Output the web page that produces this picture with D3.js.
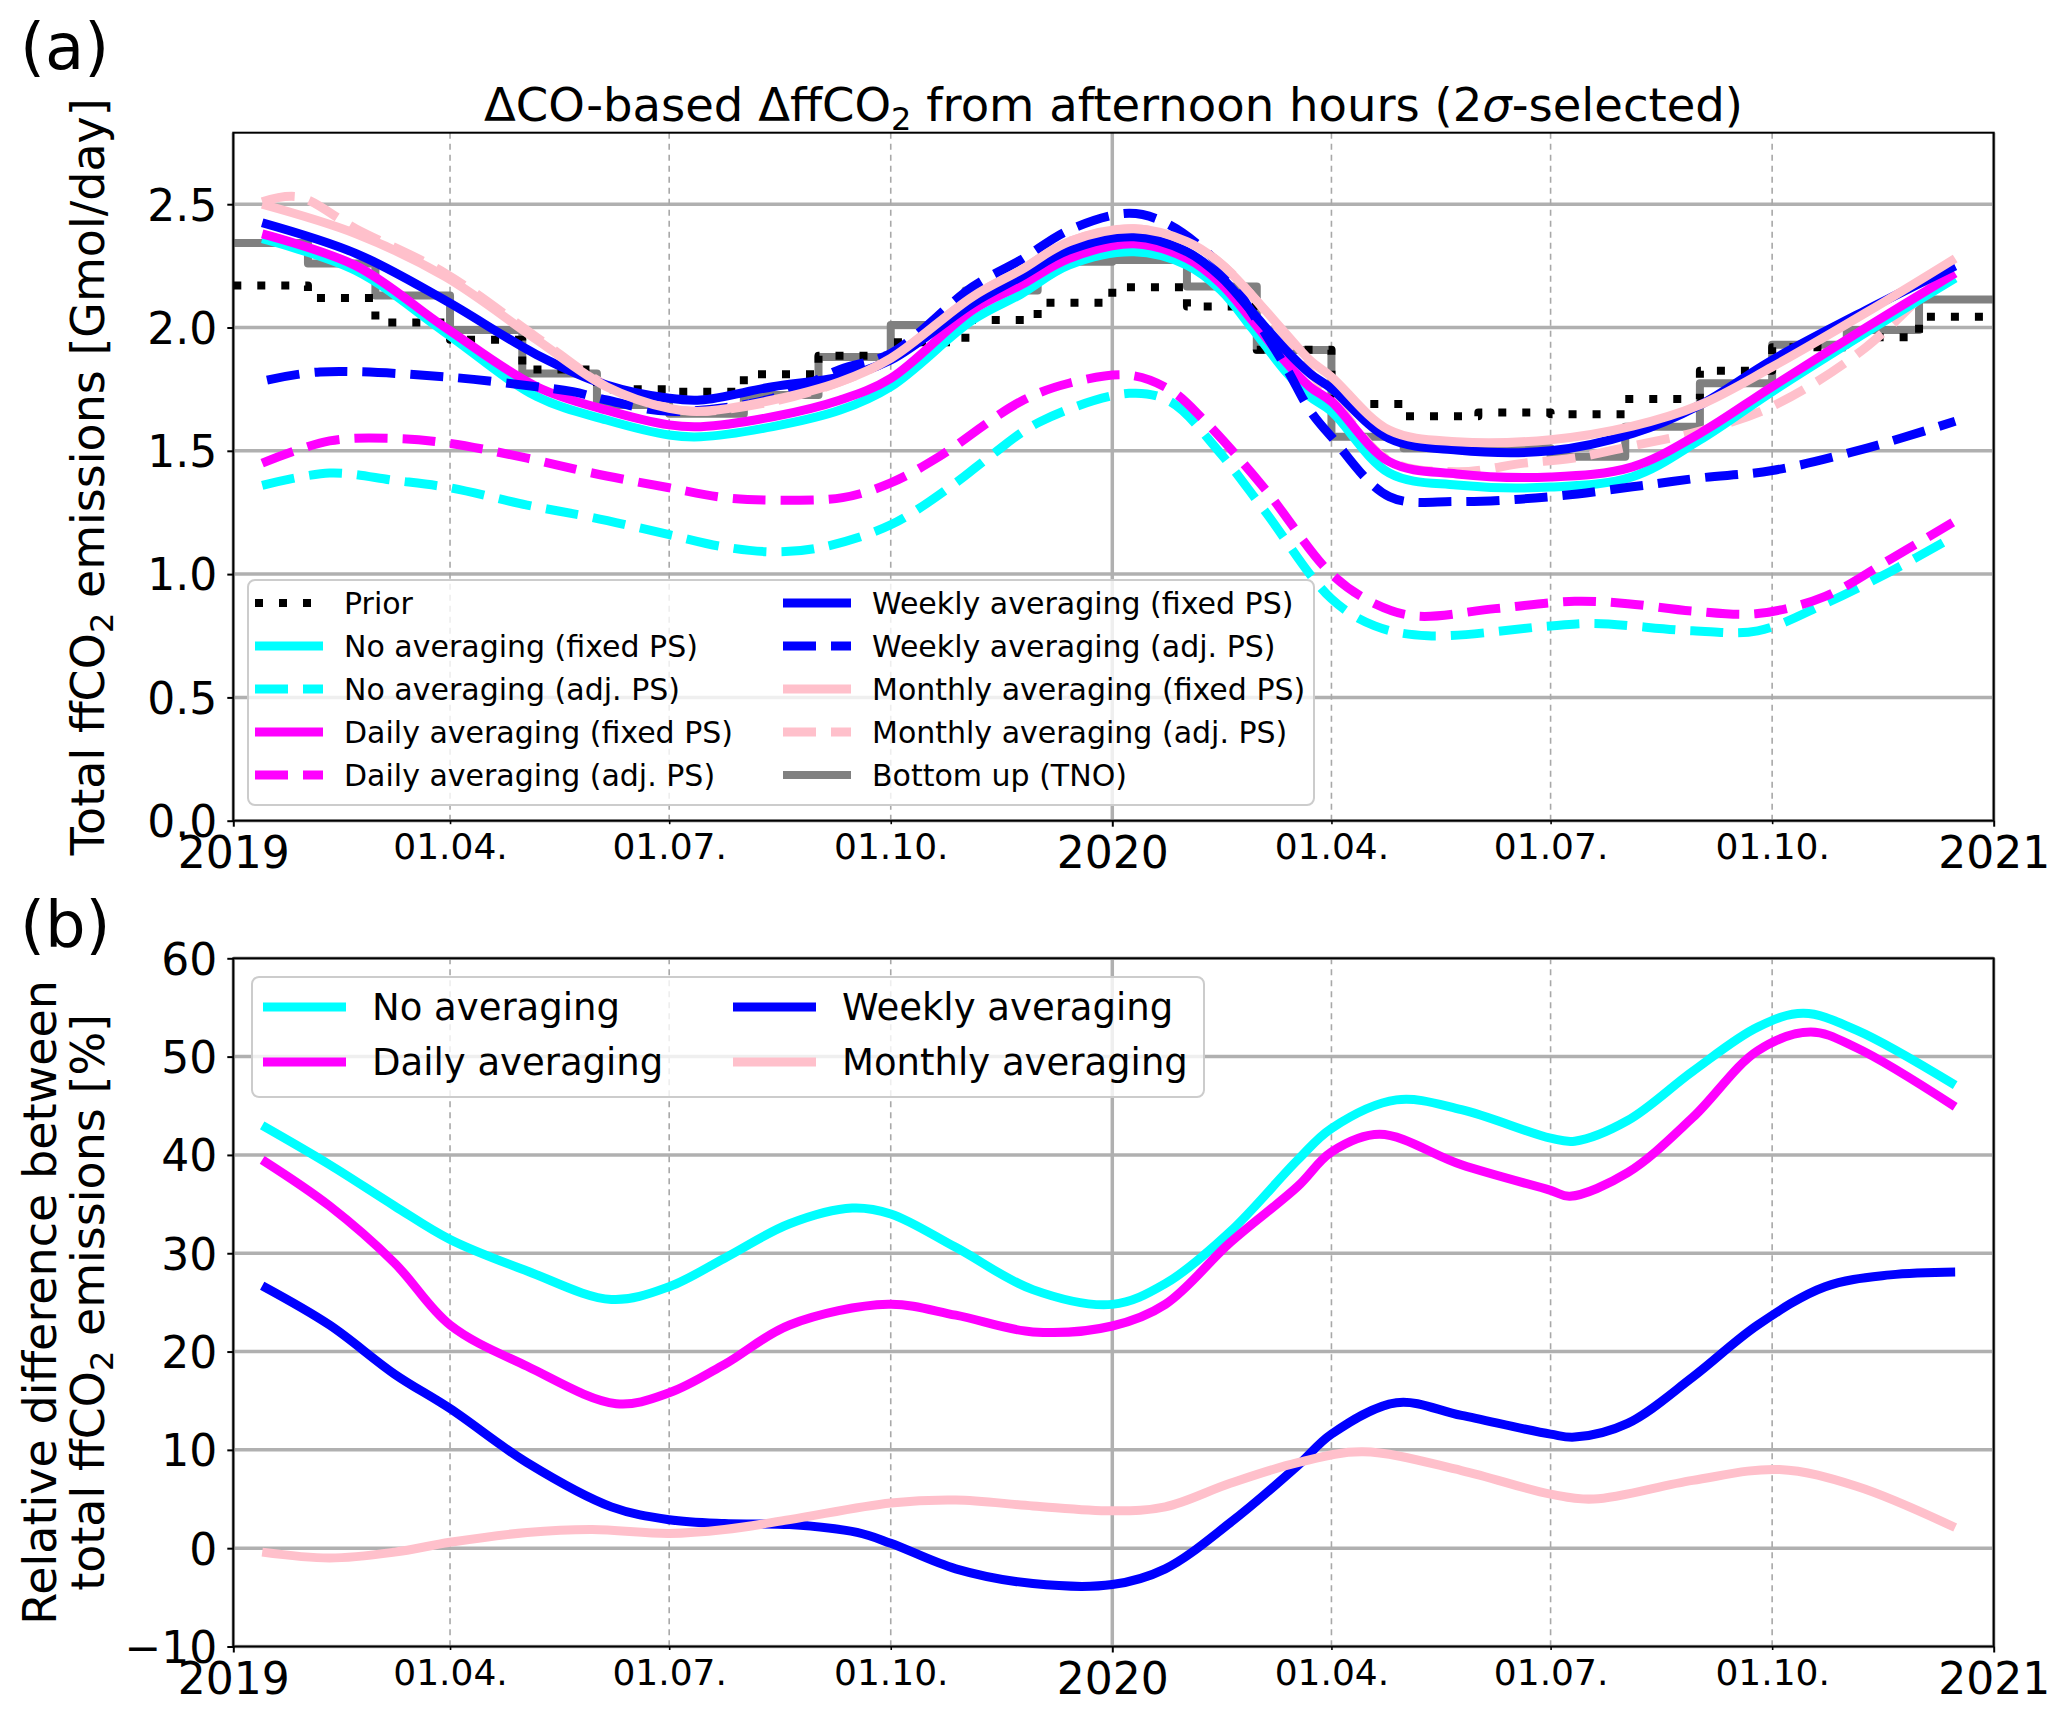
<!DOCTYPE html>
<html><head><meta charset="utf-8">
<script src="https://cdn.jsdelivr.net/npm/d3@7"></script>
<style>
body{margin:0;background:#fff}
text{font-family:"DejaVu Sans",sans-serif;fill:#000}
</style>
</head><body>
<svg id="c" width="2067" height="1713" xmlns="http://www.w3.org/2000/svg"></svg>
<script>
// ---------------- DATA ----------------
const yearTicks = ["2019-01-01","2020-01-01","2021-01-01"];
const monthTicks = ["2019-04-01","2019-07-01","2019-10-01","2020-04-01","2020-07-01","2020-10-01"];
const yTicksA = [0,0.5,1.0,1.5,2.0,2.5];
const yTicksB = [-10,0,10,20,30,40,50,60];

// monthly step series (value for each month starting 2019-01)
const priorValues = [2.17,2.12,2.02,1.95,1.83,1.75,1.74,1.81,1.885,1.94,2.03,2.10,
                     2.163,2.085,1.91,1.69,1.64,1.655,1.648,1.71,1.825,1.92,1.96,2.044];
const tnoValues   = [2.343,2.26,2.13,1.99,1.814,1.686,1.65,1.726,1.88,2.01,2.15,2.267,
                     2.274,2.166,1.909,1.557,1.51,1.51,1.476,1.598,1.774,1.93,1.99,2.114];

// panel (a) smooth series
const noFixed = [["2019-01-13",2.36],["2019-02-21",2.23],["2019-03-30",1.98],["2019-05-07",1.72],["2019-06-05",1.625],["2019-07-01",1.564],["2019-07-14",1.557],["2019-08-13",1.598],["2019-09-10",1.665],["2019-10-01",1.76],["2019-11-04",2.03],["2019-11-24",2.135],["2019-12-14",2.253],["2020-01-10",2.307],["2020-02-01",2.253],["2020-02-15",2.152],["2020-02-28",1.997],["2020-03-13",1.821],["2020-03-23",1.72],["2020-04-01",1.66],["2020-04-25",1.41],["2020-05-23",1.361],["2020-07-01",1.353],["2020-08-04",1.395],["2020-09-01",1.544],["2020-10-01",1.74],["2020-11-09",1.98],["2020-12-16",2.20]];
const noAdj = [["2019-01-13",1.36],["2019-02-10",1.41],["2019-03-09",1.38],["2019-04-01",1.35],["2019-05-03",1.28],["2019-05-30",1.23],["2019-07-01",1.16],["2019-07-24",1.11],["2019-08-15",1.09],["2019-09-03",1.11],["2019-10-01",1.20],["2019-10-28",1.37],["2019-11-11",1.476],["2019-12-02",1.618],["2020-01-08",1.733],["2020-01-25",1.70],["2020-02-14",1.50],["2020-03-04",1.26],["2020-04-01",0.90],["2020-04-19",0.79],["2020-05-11",0.75],["2020-07-01",0.79],["2020-07-19",0.80],["2020-08-29",0.77],["2020-09-25",0.77],["2020-10-23",0.88],["2020-11-19",1.01],["2020-12-15",1.15]];
const dailyFixed = [["2019-01-13",2.38],["2019-02-21",2.25],["2019-03-30",2.00],["2019-05-07",1.76],["2019-06-05",1.665],["2019-07-01",1.605],["2019-07-14",1.598],["2019-08-13",1.638],["2019-09-10",1.706],["2019-10-01",1.794],["2019-11-04",2.071],["2019-11-24",2.172],["2019-12-14",2.28],["2020-01-10",2.34],["2020-02-01",2.28],["2020-02-15",2.179],["2020-02-28",2.03],["2020-03-13",1.861],["2020-03-23",1.76],["2020-04-01",1.70],["2020-04-25",1.456],["2020-05-23",1.406],["2020-07-01",1.394],["2020-08-04",1.435],["2020-09-01",1.571],["2020-10-01",1.76],["2020-11-09",2.00],["2020-12-16",2.22]];
const dailyAdj = [["2019-01-13",1.45],["2019-02-10",1.54],["2019-03-09",1.55],["2019-04-01",1.53],["2019-05-03",1.47],["2019-05-30",1.41],["2019-07-01",1.35],["2019-07-24",1.31],["2019-08-15",1.30],["2019-09-11",1.31],["2019-10-01",1.37],["2019-10-21",1.476],["2019-11-24",1.70],["2019-12-14",1.774],["2020-01-08",1.807],["2020-01-25",1.747],["2020-02-08",1.625],["2020-03-04",1.35],["2020-04-01",1.00],["2020-04-19",0.88],["2020-05-06",0.83],["2020-06-08",0.86],["2020-07-11",0.89],["2020-08-02",0.88],["2020-08-29",0.85],["2020-09-25",0.84],["2020-10-23",0.91],["2020-11-19",1.06],["2020-12-15",1.21]];
const weeklyFixed = [["2019-01-13",2.425],["2019-02-21",2.30],["2019-03-30",2.11],["2019-05-07",1.89],["2019-06-05",1.767],["2019-07-01",1.713],["2019-07-14",1.706],["2019-08-13",1.76],["2019-09-10",1.80],["2019-10-01",1.868],["2019-11-04",2.098],["2019-11-24",2.206],["2019-12-14",2.314],["2020-01-10",2.368],["2020-02-01",2.307],["2020-02-15",2.206],["2020-02-28",2.064],["2020-03-13",1.909],["2020-03-23",1.814],["2020-04-01",1.753],["2020-04-25",1.55],["2020-05-23",1.503],["2020-07-01",1.50],["2020-08-04",1.57],["2020-09-01",1.686],["2020-10-01",1.868],["2020-11-09",2.07],["2020-12-16",2.25]];
const weeklyAdj = [["2019-01-15",1.787],["2019-02-06",1.82],["2019-03-30",1.80],["2019-05-07",1.76],["2019-05-22",1.74],["2019-06-05",1.706],["2019-07-01",1.66],["2019-08-13",1.713],["2019-09-10",1.83],["2019-10-01",1.895],["2019-11-04",2.165],["2019-11-24",2.274],["2019-12-14",2.395],["2020-01-08",2.463],["2020-01-24",2.42],["2020-02-15",2.25],["2020-02-28",2.06],["2020-03-13",1.84],["2020-03-23",1.665],["2020-04-01",1.557],["2020-04-25",1.314],["2020-05-23",1.294],["2020-07-01",1.314],["2020-08-04",1.354],["2020-09-01",1.39],["2020-10-01",1.42],["2020-11-09",1.51],["2020-12-16",1.62]];
const monthlyFixed = [["2019-01-13",2.50],["2019-02-21",2.38],["2019-03-30",2.206],["2019-05-07",1.95],["2019-06-05",1.76],["2019-07-01",1.672],["2019-07-14",1.66],["2019-08-13",1.706],["2019-09-10",1.78],["2019-10-01",1.875],["2019-11-04",2.125],["2019-11-24",2.233],["2019-12-14",2.348],["2020-01-10",2.40],["2020-02-01",2.348],["2020-02-15",2.26],["2020-02-28",2.13],["2020-03-13",1.976],["2020-03-23",1.868],["2020-04-01",1.80],["2020-04-25",1.584],["2020-05-23",1.537],["2020-07-01",1.545],["2020-08-04",1.60],["2020-09-01",1.686],["2020-10-01",1.84],["2020-11-09",2.06],["2020-12-16",2.28]];
const monthlyAdj = [["2019-01-13",2.51],["2019-01-28",2.53],["2019-02-21",2.40],["2019-03-30",2.22],["2019-05-07",1.96],["2019-06-05",1.765],["2019-07-01",1.675],["2019-07-14",1.66],["2019-08-13",1.70],["2019-09-10",1.78],["2019-10-01",1.875],["2019-11-04",2.125],["2019-11-24",2.233],["2019-12-14",2.348],["2020-01-10",2.40],["2020-02-01",2.348],["2020-02-15",2.26],["2020-02-28",2.13],["2020-03-13",1.96],["2020-03-23",1.82],["2020-04-01",1.72],["2020-04-25",1.46],["2020-05-23",1.415],["2020-06-20",1.45],["2020-07-10",1.47],["2020-08-04",1.52],["2020-09-01",1.58],["2020-10-01",1.68],["2020-11-09",1.92],["2020-12-16",2.27]];

// panel (b) relative differences [%]
const relNo = [["2019-01-13",43.0],["2019-02-10",39.0],["2019-03-09",34.8],["2019-04-01",31.4],["2019-05-03",28.2],["2019-06-07",25.3],["2019-07-01",26.6],["2019-07-24",29.5],["2019-08-20",33.0],["2019-09-15",34.6],["2019-10-01",34.0],["2019-10-28",30.6],["2019-11-29",26.3],["2020-01-01",24.8],["2020-01-23",26.9],["2020-02-19",32.2],["2020-03-18",39.5],["2020-04-01",42.7],["2020-04-28",45.6],["2020-05-25",44.6],["2020-07-01",41.7],["2020-07-11",41.4],["2020-08-02",43.5],["2020-08-29",48.5],["2020-09-25",53.0],["2020-10-14",54.4],["2020-11-05",52.7],["2020-12-16",47.1]];
const relDaily = [["2019-01-13",39.5],["2019-02-10",34.8],["2019-03-09",29.0],["2019-04-01",22.7],["2019-05-03",18.5],["2019-06-09",14.7],["2019-07-01",15.8],["2019-07-24",18.7],["2019-08-20",22.7],["2019-09-30",24.8],["2019-10-28",23.7],["2019-11-29",22.0],["2020-01-01",22.6],["2020-01-23",24.8],["2020-02-19",31.1],["2020-03-18",36.8],["2020-04-01",40.3],["2020-04-21",42.1],["2020-05-25",39.0],["2020-07-01",36.4],["2020-07-09",35.8],["2020-08-02",38.2],["2020-08-29",43.8],["2020-09-25",50.6],["2020-10-17",52.5],["2020-11-05",50.9],["2020-12-16",44.9]];
const relWeekly = [["2019-01-13",26.7],["2019-02-10",22.7],["2019-03-09",17.7],["2019-04-01",14.2],["2019-05-03",8.7],["2019-06-07",4.2],["2019-07-01",2.9],["2019-07-24",2.5],["2019-08-20",2.4],["2019-09-17",1.6],["2019-10-01",0.5],["2019-10-28",-2.1],["2019-11-29",-3.6],["2020-01-01",-3.7],["2020-01-23",-2.1],["2020-02-19",2.6],["2020-03-18",8.4],["2020-04-01",11.6],["2020-04-28",14.8],["2020-05-25",13.5],["2020-07-01",11.6],["2020-07-11",11.3],["2020-08-02",12.7],["2020-08-29",17.4],["2020-09-25",22.7],["2020-10-23",26.6],["2020-11-19",27.8],["2020-12-16",28.1]];
const relMonthly = [["2019-01-13",-0.4],["2019-02-10",-1.0],["2019-03-09",-0.4],["2019-04-01",0.6],["2019-05-03",1.6],["2019-05-30",1.9],["2019-07-01",1.5],["2019-07-24",1.9],["2019-08-20",2.9],["2019-10-01",4.6],["2019-10-28",4.9],["2019-11-29",4.3],["2020-01-01",3.8],["2020-01-23",4.2],["2020-02-19",6.6],["2020-03-18",8.7],["2020-04-14",9.8],["2020-05-25",7.9],["2020-07-01",5.5],["2020-07-19",5.0],["2020-08-29",6.9],["2020-10-04",8.0],["2020-11-05",6.3],["2020-12-16",2.1]];

// ---------------- DRAWING ----------------
const parse = d3.timeParse("%Y-%m-%d");
const svg = d3.select("#c");
const L = 233.3, R = 1993.7;
const A = {top:132.7, bottom:820.7}, B = {top:958.3, bottom:1646.5};

const x = d3.scaleTime().domain([parse("2019-01-01"), parse("2021-01-01")]).range([L, R]);
const yA = d3.scaleLinear().domain([0, 2.79]).range([A.bottom, A.top]);
const yB = d3.scaleLinear().domain([-10, 60]).range([B.bottom, B.top]);

const COL = {cyan:"#00ffff", magenta:"#ff00ff", blue:"#0000ff", pink:"#ffc0cb", grey:"#808080", black:"#000000"};
const DASH = "33,15", DOT = "8,16", LW = 9;

function grid(y, yTicks, p){
  const g = svg.append("g");
  g.selectAll("line.h").data(yTicks).join("line")
    .attr("x1", L).attr("x2", R).attr("y1", d=>y(d)).attr("y2", d=>y(d))
    .attr("stroke", "#b0b0b0").attr("stroke-width", 3.5);
  g.selectAll("line.vy").data(yearTicks.map(parse)).join("line")
    .attr("x1", d=>x(d)).attr("x2", d=>x(d)).attr("y1", p.top).attr("y2", p.bottom)
    .attr("stroke", "#b0b0b0").attr("stroke-width", 3.5);
  g.selectAll("line.vm").data(monthTicks.map(parse)).join("line")
    .attr("x1", d=>x(d)).attr("x2", d=>x(d)).attr("y1", p.top).attr("y2", p.bottom)
    .attr("stroke", "#a8a8a8").attr("stroke-width", 1.6).attr("stroke-dasharray", "6,5");
}

function axes(y, yTicks, p, fmt){
  const gx = svg.append("g").attr("transform", `translate(0,${p.bottom})`)
    .call(d3.axisBottom(x).tickValues(yearTicks.map(parse)).tickFormat(d3.timeFormat("%Y")).tickSize(6).tickSizeOuter(0));
  gx.select(".domain").remove();
  gx.selectAll(".tick line").attr("stroke", "#000").attr("stroke-width", 2);
  gx.selectAll(".tick text").attr("y", 47).attr("dy", null).style("font-size", "44px");
  const gm = svg.append("g").attr("transform", `translate(0,${p.bottom})`)
    .call(d3.axisBottom(x).tickValues(monthTicks.map(parse)).tickFormat(d3.timeFormat("%d.%m.")).tickSize(3.5).tickSizeOuter(0));
  gm.select(".domain").remove();
  gm.selectAll(".tick line").attr("stroke", "#000").attr("stroke-width", 1.6);
  gm.selectAll(".tick text").attr("y", 38).attr("dy", null).style("font-size", "36px");
  const gy = svg.append("g").attr("transform", `translate(${L},0)`)
    .call(d3.axisLeft(y).tickValues(yTicks).tickFormat(fmt).tickSize(6).tickSizeOuter(0).tickPadding(10));
  gy.select(".domain").remove();
  gy.selectAll(".tick line").attr("stroke", "#000").attr("stroke-width", 2);
  gy.selectAll(".tick text").attr("dy", "0.36em").style("font-size", "44px");
  svg.append("rect").attr("x", L).attr("y", p.top).attr("width", R-L).attr("height", p.bottom-p.top)
    .attr("fill", "none").attr("stroke", "#000").attr("stroke-width", 2);
}

function curve(y, data, color, dash, w){
  const line = d3.line().x(d=>x(parse(d[0]))).y(d=>y(d[1])).curve(d3.curveCatmullRom.alpha(0.5));
  svg.append("path").attr("d", line(data)).attr("fill", "none")
    .attr("stroke", color).attr("stroke-width", w || LW)
    .attr("stroke-dasharray", dash || null).attr("stroke-linecap", "butt").attr("stroke-linejoin", "round");
}

function steps(y, values, color, dash, w){
  const months = d3.timeMonths(parse("2019-01-01"), parse("2021-01-01"));
  const pts = months.map((m,i)=>[m, values[i]]);
  pts.push([parse("2021-01-01"), values[values.length-1]]);
  const line = d3.line().x(d=>x(d[0])).y(d=>y(d[1])).curve(d3.curveStepAfter);
  svg.append("path").attr("d", line(pts)).attr("fill", "none")
    .attr("stroke", color).attr("stroke-width", w)
    .attr("stroke-dasharray", dash || null).attr("stroke-linejoin", "round");
}

function legend(box, cols, fs, lineLen){
  const g = svg.append("g");
  g.append("rect").attr("x", box.x).attr("y", box.y).attr("width", box.w).attr("height", box.h)
    .attr("rx", 7).attr("fill", "#fff").attr("fill-opacity", 0.8).attr("stroke", "#cccccc").attr("stroke-width", 2);
  cols.forEach(c=>{
    c.items.forEach((it,i)=>{
      const cy = box.rowY0 + i*box.rowDy;
      g.append("line").attr("x1", c.x).attr("x2", c.x+lineLen).attr("y1", cy).attr("y2", cy)
        .attr("stroke", it.color).attr("stroke-width", it.w || LW).attr("stroke-dasharray", it.dash || null);
      g.append("text").attr("x", c.x+lineLen+box.gap).attr("y", cy + fs*0.36).style("font-size", fs+"px").text(it.label);
    });
  });
}

// ---------- Panel (a) ----------
grid(yA, yTicksA, A);
steps(yA, tnoValues, COL.grey, null, 8);
steps(yA, priorValues, COL.black, DOT, 8);
curve(yA, monthlyAdj, COL.pink, DASH);
curve(yA, noFixed, COL.cyan);
curve(yA, noAdj, COL.cyan, DASH);
curve(yA, dailyFixed, COL.magenta);
curve(yA, dailyAdj, COL.magenta, DASH);
curve(yA, weeklyFixed, COL.blue);
curve(yA, weeklyAdj, COL.blue, DASH);
curve(yA, monthlyFixed, COL.pink);
axes(yA, yTicksA, A, d3.format(".1f"));

legend({x:248, y:580, w:1066, h:225, rowY0:603, rowDy:43, gap:21},
  [{x:255, items:[
     {label:"Prior", color:COL.black, dash:DOT, w:8},
     {label:"No averaging (fixed PS)", color:COL.cyan},
     {label:"No averaging (adj. PS)", color:COL.cyan, dash:DASH},
     {label:"Daily averaging (fixed PS)", color:COL.magenta},
     {label:"Daily averaging (adj. PS)", color:COL.magenta, dash:DASH}]},
   {x:783, items:[
     {label:"Weekly averaging (fixed PS)", color:COL.blue},
     {label:"Weekly averaging (adj. PS)", color:COL.blue, dash:DASH},
     {label:"Monthly averaging (fixed PS)", color:COL.pink},
     {label:"Monthly averaging (adj. PS)", color:COL.pink, dash:DASH},
     {label:"Bottom up (TNO)", color:COL.grey, w:8}]}], 30, 68);

// title
const title = svg.append("text").attr("x", (L+R)/2).attr("y", 121).attr("text-anchor", "middle").style("font-size", "46.5px");
title.append("tspan").text("ΔCO-based ΔffCO");
title.append("tspan").attr("dy", 9).style("font-size", "32px").text("2");
title.append("tspan").attr("dy", -9).text(" from afternoon hours (2");
title.append("tspan").style("font-style", "italic").text("σ");
title.append("tspan").text("-selected)");

// y label (a)
const ylA = svg.append("text").attr("transform", `translate(104,${(A.top+A.bottom)/2}) rotate(-90)`)
  .attr("text-anchor", "middle").style("font-size", "46px");
ylA.append("tspan").text("Total ffCO");
ylA.append("tspan").attr("dy", 9).style("font-size", "32px").text("2");
ylA.append("tspan").attr("dy", -9).text(" emissions [Gmol/day]");

svg.append("text").attr("x", 20).attr("y", 69).style("font-size", "64px").text("(a)");

// ---------- Panel (b) ----------
grid(yB, yTicksB, B);
curve(yB, relNo, COL.cyan);
curve(yB, relDaily, COL.magenta);
curve(yB, relWeekly, COL.blue);
curve(yB, relMonthly, COL.pink);
axes(yB, yTicksB, B, d3.format("d"));

legend({x:252, y:977, w:952, h:120, rowY0:1007, rowDy:55, gap:26},
  [{x:263, items:[{label:"No averaging", color:COL.cyan},{label:"Daily averaging", color:COL.magenta}]},
   {x:733, items:[{label:"Weekly averaging", color:COL.blue},{label:"Monthly averaging", color:COL.pink}]}], 37, 83);

const ylB = svg.append("text").attr("transform", `translate(0,${(B.top+B.bottom)/2}) rotate(-90)`)
  .attr("text-anchor", "middle").style("font-size", "46px");
ylB.append("tspan").attr("x", 0).attr("y", 56).text("Relative difference between");
ylB.append("tspan").attr("x", 0).attr("y", 104).text("total ffCO");
ylB.append("tspan").attr("dy", 9).style("font-size", "32px").text("2");
ylB.append("tspan").attr("dy", -9).text(" emissions [%]");

svg.append("text").attr("x", 20).attr("y", 947).style("font-size", "64px").text("(b)");
</script>
</body></html>
